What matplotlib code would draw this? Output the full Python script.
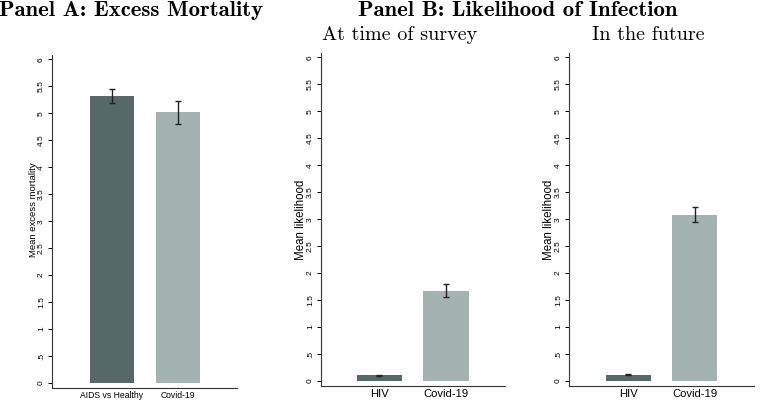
import matplotlib.pyplot as plt

# Panel A
a_labels = ['AIDS vs Healthy', 'Covid-19']
a_means = [5.33, 5.02]
a_lo = [5.19, 4.81]
a_hi = [5.46, 5.22]

# Panel B
b_labels = ['HIV', 'Covid-19']
b_now = [0.11, 1.67]
b_now_lo = [0.10, 1.56]
b_now_hi = [0.12, 1.79]
b_fut = [0.12, 3.08]
b_fut_lo = [0.11, 2.95]
b_fut_hi = [0.13, 3.22]

colors = ['#566868', '#a3b3b0']
yticks = [0, .5, 1, 1.5, 2, 2.5, 3, 3.5, 4, 4.5, 5, 5.5, 6]
ytl = ['0', '.5', '1', '1.5', '2', '2.5', '3', '3.5', '4', '4.5', '5', '5.5', '6']

plt.rcParams['font.family'] = ['Liberation Sans', 'DejaVu Sans']
fig = plt.figure(figsize=(7.62, 4.09), dpi=100)


def panel(rect, labels, means, lo, hi, ylabel, xlim, width, xfs, yfs, ly):
    ax = fig.add_axes(rect)
    x = list(range(len(means)))
    err = [[m - l for m, l in zip(means, lo)], [h - m for m, h in zip(means, hi)]]
    ax.bar(x, means, width=width, color=colors, zorder=1)
    ax.errorbar(x, means, yerr=err, fmt='none', ecolor='#222222',
                elinewidth=1.0, capsize=2, capthick=1.0, zorder=2)
    ax.set_xlim(*xlim)
    ax.set_ylim(-0.093, 6.08)
    ax.set_yticks(yticks)
    ax.set_yticklabels(ytl, rotation=90, va='center', fontsize=6)
    ax.set_xticks(x)
    ax.set_xticklabels(labels, fontsize=xfs)
    ax.tick_params(axis='x', length=0, pad=2)
    ax.tick_params(axis='y', length=3, width=0.7, pad=2)
    ax.set_ylabel(ylabel, fontsize=yfs, labelpad=3)
    ax.yaxis.set_label_coords(-0.075, ly)
    for s in ['top', 'right']:
        ax.spines[s].set_visible(False)
    for s in ['left', 'bottom']:
        ax.spines[s].set_linewidth(0.8)
        ax.spines[s].set_color('#333333')
    return ax


panel([0.0682, 0.0513, 0.243, 0.814], a_labels, a_means, a_lo, a_hi,
      'Mean excess mortality', (-0.916, 1.908), 0.67, 6.2, 6.8, 0.535)
panel([0.4213, 0.0562, 0.2415, 0.814], b_labels, b_now, b_now_lo, b_now_hi,
      'Mean likelihood', (-0.88, 1.89), 0.68, 8.1, 8.3, 0.5)
panel([0.7467, 0.0562, 0.2428, 0.814], b_labels, b_fut, b_fut_lo, b_fut_hi,
      'Mean likelihood', (-0.90, 1.90), 0.68, 8.1, 8.3, 0.5)

fig.text(0.172, 0.998, 'Panel A: Excess Mortality', family='cmb10', fontsize=16.4,
         ha='center', va='top')
fig.text(0.68, 0.998, 'Panel B: Likelihood of Infection', family='cmb10', fontsize=16.4,
         ha='center', va='top')
fig.text(0.525, 0.937, 'At time of survey', family='cmr10', fontsize=14.5,
         ha='center', va='top')
fig.text(0.851, 0.937, 'In the future', family='cmr10', fontsize=14.5,
         ha='center', va='top')

fig.savefig('out.png', dpi=100)
